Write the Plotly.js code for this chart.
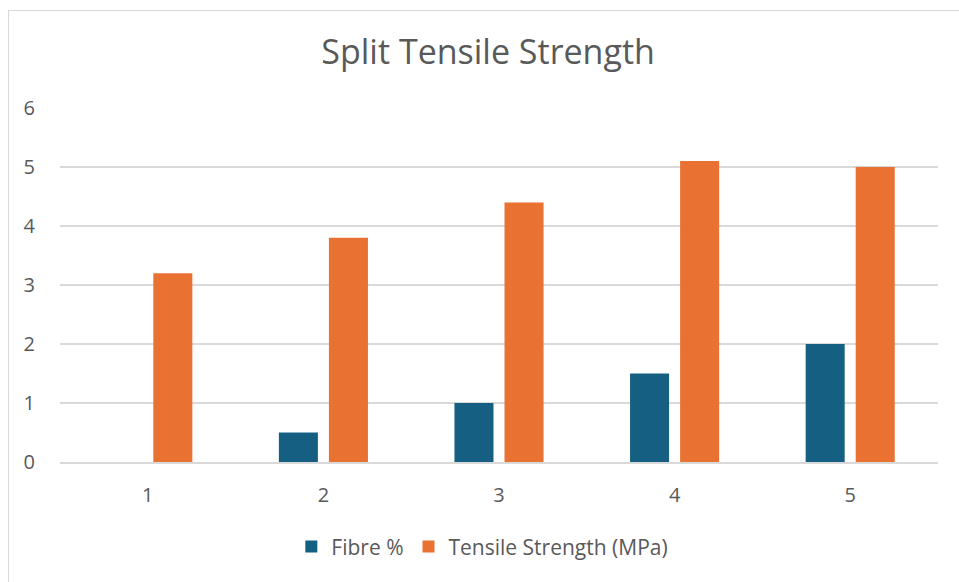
<!DOCTYPE html>
<html>
<head>
<meta charset="utf-8">
<script src="https://cdn.plot.ly/plotly-3.0.1.min.js"></script>
<style>
html,body{margin:0;padding:0;background:#fff;overflow:hidden;}
#frame{position:absolute;left:8px;top:10px;width:980px;height:600px;border:1px solid #d9d9d9;box-sizing:border-box;}
#chart{position:absolute;left:0;top:0;width:959px;height:582px;}
</style>
</head>
<body>
<div id="frame"></div>
<div id="chart"></div>
<script>
const categories = ["1", "2", "3", "4", "5"];
const fibrePercent = [0, 0.5, 1, 1.5, 2];
const tensileStrength = [3.2, 3.8, 4.4, 5.1, 5.0];
const yTicks = [0, 1, 2, 3, 4, 5, 6];

const fontFam = "Open Sans, Noto Sans, sans-serif";
const traces = [
  {type: "bar", name: "Fibre %", x: categories, y: fibrePercent,
   marker: {color: "#156082"}, hoverinfo: "none"},
  {type: "bar", name: "Tensile Strength (MPa)", x: categories, y: tensileStrength,
   marker: {color: "#E97132"}, hoverinfo: "none"}
];
const layout = {
  width: 959, height: 582,
  paper_bgcolor: "rgba(0,0,0,0)", plot_bgcolor: "rgba(0,0,0,0)",
  margin: {l: 60, r: 21, t: 108, b: 120},
  barmode: "group", bargap: 0.43, bargroupgap: 0.22,
  font: {family: fontFam, color: "#595959", size: 20},
  title: {text: "Split Tensile Strength", x: 0.509, xanchor: "center", y: 0.91, yanchor: "middle",
          font: {family: fontFam, size: 34, color: "#595959"}},
  xaxis: {type: "category", showgrid: false, showline: true, linecolor: "#d9d9d9", linewidth: 1.5,
          ticks: "outside", ticklen: 14, tickcolor: "rgba(0,0,0,0)", zeroline: false,
          tickfont: {size: 20, color: "#595959"}},
  yaxis: {range: [0, 6], tickvals: yTicks, showgrid: true, gridcolor: "#d9d9d9", gridwidth: 1.5,
          zeroline: false, showline: false, ticks: "outside", ticklen: 20, tickcolor: "rgba(0,0,0,0)",
          tickfont: {size: 20, color: "#595959"}},
  legend: {orientation: "h", x: 0.481, xanchor: "center", y: -0.24, yanchor: "middle",
           font: {size: 21, color: "#595959"}, itemwidth: 30, traceorder: "normal"},
  showlegend: true
};
Plotly.newPlot("chart", traces, layout, {staticPlot: true, displayModeBar: false});
</script>
</body>
</html>
